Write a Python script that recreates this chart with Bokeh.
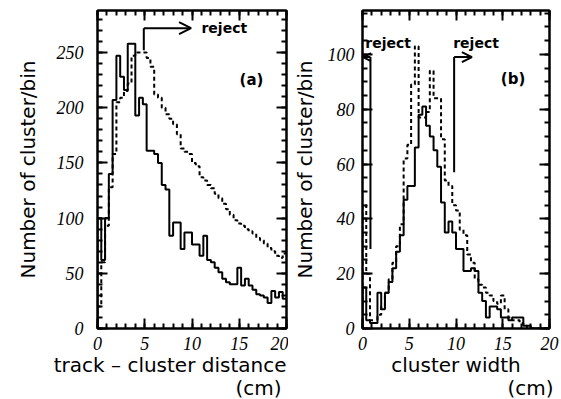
from bokeh.plotting import figure
from bokeh.layouts import row
from bokeh.models import (Range1d, LinearAxis, SingleIntervalTicker, Arrow, OpenHead, Label,
                          Title, CustomJSTickFormatter)
from bokeh.embed import file_html
from bokeh.resources import INLINE

# ---------------- data ----------------
bin_width = 0.4  # cm, 50 bins from 0 to 20 cm

# panel (a): track - cluster distance
a_solid = [100, 62, 100, 140, 207, 247, 228, 216, 258, 258,
           193, 209, 203, 161, 161, 158, 150, 130, 126, 84,
           96, 96, 72, 87, 87, 76, 76, 66, 84, 62,
           60, 55, 51, 45, 42, 40, 40, 55, 39, 45,
           39, 35, 31, 30, 28, 23, 34, 28, 33, 27]
a_dashed = [20, 60, 93, 128, 158, 205, 209, 215, 222, 247,
            250, 250, 250, 245, 237, 212, 209, 200, 194, 190,
            185, 176, 163, 160, 158, 150, 147, 137, 134, 130,
            127, 122, 118, 113, 108, 103, 98, 95, 93, 90,
            88, 86, 82, 80, 77, 73, 70, 66, 64, 68]

# panel (b): cluster width
b_solid = [15, 3, 2, 2, 13, 7, 13, 17, 22, 28,
           34, 47, 52, 52, 66, 78, 81, 74, 70, 65,
           59, 46, 35, 39, 35, 29, 29, 21, 21, 22,
           21, 13, 10, 4, 8, 8, 7, 4, 4, 3,
           4, 4, 4, 1, 1, 0, 0, 0, 0, 0]
b_dashed = [45, 20, 3, 2, 5, 8, 13, 18, 24, 30,
            38, 62, 67, 89, 103, 77, 77, 79, 94, 84,
            84, 69, 54, 52, 45, 43, 36, 34, 27, 24,
            18, 16, 15, 13, 12, 10, 9, 12, 7, 4,
            3, 3, 2, 1, 0, 0, 0, 0, 0, 0]

x_ticks_interval = 5
a_y_interval = 50
b_y_interval = 20

a_cut = 4.9
b_cuts = [0.85, 9.8]

SERIF = "'Liberation Serif', 'Times New Roman', serif"
SANS = "DejaVu Sans"


def step_xy(vals):
    n = len(vals)
    xs = [0.0] + [bin_width * i for i in range(n + 1)]
    ys = [0] + list(vals) + [vals[-1]]
    return xs, ys


def style_ticks(ax):
    ax.axis_line_width = 2
    ax.major_tick_in = 10
    ax.major_tick_out = 0
    ax.minor_tick_in = 5
    ax.minor_tick_out = 0
    ax.major_tick_line_width = 2
    ax.minor_tick_line_width = 2


def make_panel(width, left, right, ymax, yint, yminor, solid, dashed,
               xlab1, xlab1_align, xlab1_off, xlab2, xlab2_off, ylab_standoff, ytick_standoff):
    p = figure(width=width, height=399, x_range=Range1d(0, 20), y_range=Range1d(0, ymax),
               output_backend="svg", toolbar_location=None,
               min_border_left=left, min_border_right=right,
               min_border_top=10, min_border_bottom=71)
    p.xgrid.visible = False
    p.ygrid.visible = False
    p.outline_line_color = "black"
    p.outline_line_width = 2
    p.background_fill_color = "white"
    p.border_fill_color = "white"

    p.xaxis.ticker = SingleIntervalTicker(interval=x_ticks_interval, num_minor_ticks=5)
    p.yaxis.ticker = SingleIntervalTicker(interval=yint, num_minor_ticks=yminor)

    for ax in (p.xaxis[0], p.yaxis[0]):
        style_ticks(ax)
        ax.major_label_text_font = SERIF
        ax.major_label_text_font_style = "italic"
        ax.major_label_text_font_size = "18px"
        ax.major_label_text_color = "black"
    p.xaxis.major_label_standoff = 8
    p.yaxis.major_label_standoff = ytick_standoff

    p.yaxis.axis_label = "Number of cluster/bin"
    p.yaxis.axis_label_text_font = SANS
    p.yaxis.axis_label_text_font_style = "normal"
    p.yaxis.axis_label_text_font_size = "20px"
    p.yaxis.axis_label_text_color = "black"
    p.yaxis.axis_label_standoff = ylab_standoff

    # mirrored axes (ticks only)
    blank = CustomJSTickFormatter(code="return '';")
    top = LinearAxis(ticker=SingleIntervalTicker(interval=x_ticks_interval, num_minor_ticks=5),
                     formatter=blank)
    rgt = LinearAxis(ticker=SingleIntervalTicker(interval=yint, num_minor_ticks=yminor),
                     formatter=blank)
    for ax in (top, rgt):
        style_ticks(ax)
        ax.major_label_text_font_size = "1px"
        ax.major_label_standoff = 0
    p.add_layout(top, "above")
    p.add_layout(rgt, "right")

    xs, ys = step_xy(solid)
    p.step(xs, ys, mode="after", line_color="black", line_width=2)
    xs, ys = step_xy(dashed)
    p.step(xs, ys, mode="after", line_color="black", line_width=2, line_dash="4 3")

    p.add_layout(Title(text=xlab1, align=xlab1_align, offset=xlab1_off, text_font=SANS,
                       text_font_style="normal", text_font_size="20px", text_color="black",
                       standoff=-3), "below")
    p.add_layout(Title(text=xlab2, align="left", offset=xlab2_off, text_font=SANS,
                       text_font_style="normal", text_font_size="20px", text_color="black",
                       standoff=-4), "below")
    return p


def note(p, x, y, text, size="14px", align="left"):
    p.add_layout(Label(x=x, y=y, text=text, text_font=SANS, text_font_style="bold",
                       text_font_size=size, text_color="black", text_baseline="middle",
                       text_align=align))


# ---------- panel (a) ----------
pa = make_panel(288, 97, 2, 288, a_y_interval, 5, a_solid, a_dashed,
                "track \u2013 cluster distance", "right", 0, "(cm)", 138, 14, 14)
pa.segment(x0=[a_cut], y0=[252], x1=[a_cut], y1=[272], line_color="black", line_width=2)
pa.add_layout(Arrow(end=OpenHead(size=12, line_width=2), x_start=a_cut, y_start=272,
                    x_end=9.9, y_end=272, line_width=2))
note(pa, 11.0, 272, "reject")
note(pa, 16.3, 225, "(a)", "15px", "center")

# ---------- panel (b) ----------
pb = make_panel(273, 74, 12, 116, b_y_interval, 4, b_solid, b_dashed,
                "cluster width", "center", 0, "(cm)", 145, 8, 8)
pb.segment(x0=[b_cuts[0], b_cuts[1]], y0=[29, 57], x1=[b_cuts[0], b_cuts[1]], y1=[99, 99],
           line_color="black", line_width=2)
pb.add_layout(Arrow(end=OpenHead(size=8, line_width=2), x_start=b_cuts[0], y_start=99,
                    x_end=0.05, y_end=99, line_width=2))
pb.add_layout(Arrow(end=OpenHead(size=10, line_width=2), x_start=b_cuts[1], y_start=99,
                    x_end=11.7, y_end=99, line_width=2))
note(pb, 0.3, 104, "reject")
note(pb, 9.7, 104, "reject")
note(pb, 16.1, 91, "(b)", "15px", "center")

layout = row(pa, pb)
open("out.html", "w").write(file_html(layout, INLINE))
